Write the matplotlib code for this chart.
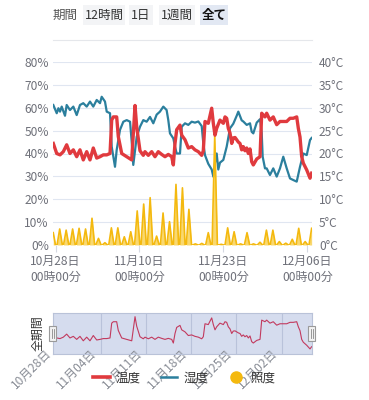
import numpy as np
import pandas as pd
import matplotlib
matplotlib.use('Agg')
import matplotlib.pyplot as plt
from matplotlib.patches import Rectangle
from matplotlib.lines import Line2D
from matplotlib.transforms import ScaledTranslation

plt.rcParams['font.family'] = ['Noto Sans CJK JP', 'DejaVu Sans']

# ---------------- data ----------------
BASE = pd.Timestamp('2023-10-28')

# temperature (°C), days since 10/28 00:00
temp_days = [-0.34, 0.19, 0.70, 1.21, 1.73, 2.24, 2.76, 3.28, 3.79, 4.30, 4.83, 5.34, 5.85, 6.38, 6.89,
             7.40, 7.93, 8.44, 8.70, 8.95, 9.47, 9.72, 10.25, 11.02, 11.80, 12.31, 12.57, 13.08, 13.59,
             13.85, 14.37, 14.89, 15.40, 15.91, 16.44, 16.95, 17.46, 17.99, 18.24, 18.50, 18.76, 19.27,
             19.54, 20.05, 20.56, 21.08, 21.59, 22.11, 22.63, 22.88, 23.14, 23.65, 24.18, 24.43, 24.69,
             24.95, 25.46, 25.98, 26.24, 26.50, 26.75, 27.01, 27.28, 27.52, 27.79, 28.05, 28.30, 28.56,
             28.82, 29.07, 29.33, 29.60, 29.85, 30.11, 30.37, 30.62, 31.15, 31.66, 31.92, 32.43, 32.69,
             33.20, 33.71, 34.24, 34.75, 35.26, 35.79, 36.30, 36.81, 37.34, 37.59, 37.85, 38.11, 38.36,
             38.89, 39.40, 39.65]
temp_vals = [22.2, 20.0, 19.7, 20.4, 21.9, 20.0, 20.8, 19.3, 20.8, 18.6, 20.4, 18.6, 21.2, 19.0, 19.3,
             19.7, 19.7, 20.0, 27.3, 28.0, 28.0, 23.7, 20.0, 19.3, 18.6, 30.5, 25.8, 20.6, 19.6,
             20.4, 19.6, 20.4, 19.3, 20.4, 19.8, 19.3, 19.8, 19.3, 17.5, 22.2, 25.2, 26.2,
             24.0, 23.0, 21.2, 21.5, 20.8, 20.4, 19.6, 20.6, 27.0, 26.6, 29.9, 26.6, 24.0,
             25.5, 27.3, 26.6, 28.0, 27.7, 25.5, 24.5, 22.2, 23.4, 23.5, 23.0, 22.5, 22.2,
             20.8, 21.5, 20.6, 21.2, 20.0, 21.0, 18.2, 17.5, 18.8, 19.3, 28.8, 28.0, 28.8,
             27.3, 28.0, 26.3, 27.0, 27.0, 27.0, 27.7, 27.7, 28.0, 25.5, 23.6, 19.3, 17.9,
             16.4, 14.6, 15.7]

# humidity (%)
hum_days = [-0.34, 0.19, 0.45, 0.70, 0.96, 1.47, 1.73, 2.24, 2.76, 3.28, 3.79, 4.30, 4.83, 5.34, 5.85,
            6.38, 6.89, 7.15, 7.66, 7.93, 8.44, 8.70, 9.21, 9.47, 9.98, 10.50, 11.02, 11.54, 11.80,
            12.04, 12.57, 13.08, 13.59, 14.11, 14.63, 15.14, 15.66, 16.17, 16.69, 17.20, 17.46, 17.72,
            18.24, 18.50, 18.76, 19.27, 19.54, 20.05, 20.56, 21.08, 21.59, 22.11, 22.63, 22.88, 23.14,
            23.65, 24.18, 24.43, 24.69, 24.95, 25.20, 25.46, 25.98, 26.50, 27.01, 27.52, 28.05, 28.30,
            28.82, 29.07, 29.60, 30.11, 30.37, 30.62, 31.15, 31.66, 31.92, 32.07, 32.43, 32.69, 33.20,
            33.71, 34.24, 34.75, 35.26, 35.79, 36.30, 36.81, 37.34, 37.85, 38.36, 38.89, 39.40, 39.65]
hum_vals = [61.2, 57.6, 59.8, 58.3, 60.5, 56.5, 61.2, 59.0, 60.5, 56.8, 61.2, 62.0, 60.5, 62.7, 60.5,
            63.4, 62.0, 64.8, 62.7, 58.3, 57.6, 43.0, 34.2, 41.5, 50.3, 53.9, 54.6, 53.9, 45.0,
            35.0, 47.3, 51.7, 54.6, 53.9, 56.0, 53.2, 57.0, 58.3, 60.5, 59.0, 54.6, 48.8,
            46.6, 43.0, 40.0, 40.0, 51.7, 53.2, 52.5, 53.9, 53.5, 54.0, 52.0, 44.5, 39.3,
            35.5, 33.0, 29.9, 36.0, 40.0, 33.0, 36.0, 37.2, 43.0, 51.0, 53.0, 56.5, 58.3,
            54.5, 54.0, 52.5, 53.2, 49.5, 48.8, 53.5, 55.0, 49.0, 38.6, 33.5, 33.5, 30.6,
            33.5, 29.9, 33.5, 38.6, 33.5, 29.1, 28.4, 27.7, 34.2, 40.0, 39.3, 45.9, 46.8]

# illuminance: value at start of record (10/27 afternoon) and daily peaks 10/28 .. 12/06
light_start = 5.4
light_peaks = [7.0, 6.5, 7.0, 7.3, 7.0, 11.7, 2.9, 1.0, 7.5, 7.5,
               3.6, 5.8, 14.9, 17.9, 20.7, 3.9, 14.0, 10.2, 26.5, 25.0,
               15.6, 0.5, 0.7, 5.4, 48.0, 0.3, 7.5, 5.8, 0.5, 5.4,
               0.5, 1.2, 6.5, 6.5, 1.5, 0.8, 2.5, 7.3, 1.5, 7.3]

main_tick_dates = ['2023-10-28', '2023-11-10', '2023-11-23', '2023-12-06']
nav_tick_dates = ['2023-10-28', '2023-11-04', '2023-11-11', '2023-11-18', '2023-11-25', '2023-12-02']
legend_labels = ['温度', '湿度', '照度']
period_labels = ['12時間', '1日', '1週間', '全て']

# ---------------- helpers ----------------
def T(days):
    return BASE + pd.to_timedelta(np.asarray(days, dtype=float), unit='D')

# illuminance series: night 0, daytime peak
light_days = [-0.35, 0.0]
light_vals = [light_start, 0.0]
for k, pk in enumerate(light_peaks):
    if k < len(light_peaks) - 1:
        light_days += [k + 0.24, k + 0.65, k + 1.06]
        light_vals += [0.0, pk, 0.0]
    else:
        light_days += [k + 0.24, k + 0.65]
        light_vals += [0.0, pk]

W, H = 369, 400
FS = 8.6
RED = '#e03a3e'
BLUE = '#2b7f9d'
YEL = '#f4b90f'
LBL = '#6e7079'

fig = plt.figure(figsize=(W / 100, H / 100), dpi=100)

def fx(x):
    return x / W

def fy(y):
    return 1 - y / H

# ---------------- top period buttons ----------------
fig.text(fx(65), fy(15.5), '期間', ha='center', va='center', fontsize=FS + 0.4, color='#555555')
btn_boxes = [(83, 125), (129, 153), (159, 195), (200, 228)]
for i, (lab, (x0, x1)) in enumerate(zip(period_labels, btn_boxes)):
    active = (i == len(period_labels) - 1)
    fig.add_artist(Rectangle((fx(x0), fy(25)), fx(x1 - x0), 20 / H, transform=fig.transFigure,
                             facecolor='#e2e8f3' if active else '#f3f4f6', edgecolor='none'))
    fig.text(fx((x0 + x1) / 2), fy(15.5), lab, ha='center', va='center', fontsize=FS + 0.4,
             color='#111111' if active else '#333333', fontweight='bold' if active else 'normal')
fig.add_artist(Line2D([fx(53), fx(312)], [fy(40), fy(40)], transform=fig.transFigure,
                      color='#e5e7eb', lw=0.8))

# ---------------- main chart ----------------
ax = fig.add_axes([fx(53), 155 / H, 259 / W, 183 / H])
ax2 = ax.twinx()

ax.plot(T(hum_days), hum_vals, color=BLUE, lw=1.6, zorder=3, solid_joinstyle='round')
ax.fill_between(T(light_days), light_vals, 0, color='#f8cf4c', alpha=0.8, lw=0, zorder=4)
ax.plot(T(light_days), light_vals, color=YEL, lw=1.2, zorder=5, solid_joinstyle='round')
ax2.plot(T(temp_days), temp_vals, color=RED, lw=2.4, zorder=3, solid_joinstyle='round')

xmin = BASE + pd.Timedelta(days=-0.387)
xmax = BASE + pd.Timedelta(days=39.706)
ax.set_xlim(xmin, xmax)
ax.set_ylim(0, 80)
ax2.set_ylim(0, 40)

lticks = list(range(0, 81, 10))
ax.set_yticks(lticks)
ax.set_yticklabels([f'{v}%' for v in lticks])
rticks = list(range(0, 41, 5))
ax2.set_yticks(rticks)
ax2.set_yticklabels([f'{v}°C' for v in rticks])
ax.grid(axis='y', color='#e0e6f1', lw=0.8)
ax.set_axisbelow(True)
ax.tick_params(axis='y', length=0, pad=3, labelsize=FS, labelcolor=LBL)
ax2.tick_params(axis='y', length=0, pad=5, labelsize=FS, labelcolor=LBL)

mt = pd.to_datetime(main_tick_dates)
ax.set_xticks(mt)
ax.set_xticklabels([f'{d.month}月{d.day:02d}日\n00時00分' for d in mt])
ax.tick_params(axis='x', length=5, width=0.8, color='#d5d9e2', pad=2, labelsize=FS, labelcolor=LBL)
for lbl in ax.get_xticklabels():
    lbl.set_linespacing(1.3)
for a in (ax, ax2):
    for s in a.spines.values():
        s.set_visible(False)

# ---------------- navigator ----------------
nav = fig.add_axes([fx(53), 46 / H, 259 / W, 41 / H])
nav.set_facecolor('#d5dcee')
for s in nav.spines.values():
    s.set_color('#b9c2d8')
    s.set_linewidth(0.8)
nt = pd.to_datetime(nav_tick_dates)
for d in nt[1:]:
    nav.axvline(d, color='#b9c2da', lw=0.8, zorder=1)
nav.plot(T(temp_days), temp_vals, color='#c23a5e', lw=0.8, zorder=2)
nav.set_xlim(xmin, xmax)
nav.set_ylim(12.1, 32.3)
nav.set_yticks([])
nav.set_xticks(nt)
nav.set_xticklabels([f'{d.month}月{d.day:02d}日' for d in nt])
nav.tick_params(axis='x', length=0, pad=-2, labelsize=FS, labelcolor='#888c95')
shift = ScaledTranslation(-6 / 100, 0, fig.dpi_scale_trans)
for lbl in nav.get_xticklabels():
    lbl.set_rotation(45)
    lbl.set_rotation_mode('anchor')
    lbl.set_ha('right')
    lbl.set_va('center')
    lbl.set_transform(lbl.get_transform() + shift)

fig.text(fx(38), fy(333), '全期間', rotation=90, ha='center', va='center', fontsize=FS, color='#333333')

for cx in (52.5, 311.5):
    fig.add_artist(Rectangle((fx(cx - 3.5), fy(341)), 7 / W, 15 / H, transform=fig.transFigure,
                             facecolor='#f2f2f2', edgecolor='#9a9a9a', lw=0.8, zorder=10))
    for dx in (-1, 1):
        fig.add_artist(Line2D([fx(cx + dx), fx(cx + dx)], [fy(338), fy(329)], transform=fig.transFigure,
                              color='#888888', lw=0.6, zorder=11))

# ---------------- legend ----------------
handles = [Line2D([], [], color=RED, lw=2.6),
           Line2D([], [], color=BLUE, lw=1.8),
           Line2D([], [], color=YEL, marker='o', ls='none', markersize=8)]
fig.legend(handles, legend_labels, loc='center', bbox_to_anchor=(0.5, fy(378)), ncol=3,
           frameon=False, fontsize=FS + 0.4, handlelength=1.3, handletextpad=0.5,
           columnspacing=1.6, labelcolor='#333333')

fig.savefig('out.png', dpi=100)
